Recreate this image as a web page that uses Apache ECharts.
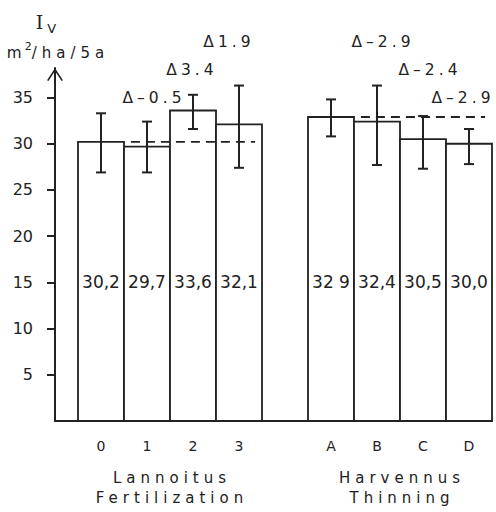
<!DOCTYPE html>
<html>
<head>
<meta charset="utf-8">
<script src="https://cdn.jsdelivr.net/npm/echarts@6/dist/echarts.min.js"></script>
<style>
html, body { margin: 0; padding: 0; background: #fff; }
#chart { width: 496px; height: 512px; }
/* 字间距：轴名称和 Δ 标注 */
#chart text[style*="15px"] { letter-spacing: 5px; }
#chart text[style*="15.5px"] { letter-spacing: 4px; }
</style>
</head>
<body>
<div id="chart"></div>
<script>
// 数据
var categories = ['0', '1', '2', '3', 'A', 'B', 'C', 'D'];
var groupNames = ['Lannoitus\nFertilization', 'Harvennus\nThinning'];
var means = [30.2, 29.7, 33.6, 32.1, 32.9, 32.4, 30.5, 30.0];
var meanLabels = ['30,2', '29,7', '33,6', '32,1', '32 9', '32,4', '30,5', '30,0'];
var errLow = [26.9, 26.9, 31.6, 27.4, 30.8, 27.7, 27.3, 27.8];
var errHigh = [33.3, 32.4, 35.3, 36.3, 34.8, 36.3, 33.0, 31.6];
var deltas = [null, -0.5, 3.4, 1.9, null, -2.9, -2.4, -2.9];
var yTicks = [5, 10, 15, 20, 25, 30, 35];

// 布局
var GROUP_SIZE = 4;
var DELTA_ROW = [null, 0, 1, 2, null, 2, 1, 0];
var DELTA_DX = [0, 5, -3, -12, 0, 4, 5, -8];
var LABEL_LEVEL = 15;
var INK = '#222';
var FONT = 'DejaVu Sans';
var ARROW = 'path://M0,13 L8.5,0 L17,13 L15.5,13.9 L8.5,3.2 L1.5,13.9 Z';

function xOf(i) { return i + Math.floor(i / GROUP_SIZE); }

var xPositions = categories.map(function (c, i) { return xOf(i); });

var barData = means.map(function (v, i) {
    return [xOf(i), v, errLow[i], errHigh[i], i];
});

var refData = groupNames.map(function (n, g) {
    var first = xOf(g * GROUP_SIZE);
    return [first, first + GROUP_SIZE - 1, means[g * GROUP_SIZE]];
});

var groupData = groupNames.map(function (n, g) {
    var first = xOf(g * GROUP_SIZE);
    return [first + (GROUP_SIZE - 1) / 2, g];
});

function renderBar(params, api) {
    var x = api.value(0);
    var p0 = api.coord([x - 0.5, 0]);
    var p1 = api.coord([x + 0.5, api.value(1)]);
    return {
        type: 'rect',
        shape: {x: p0[0], y: p1[1], width: p1[0] - p0[0], height: p0[1] - p1[1]},
        style: {fill: '#fff', stroke: INK, lineWidth: 1.8}
    };
}

function renderErr(params, api) {
    var x = api.value(0);
    var lo = api.coord([x, api.value(2)]);
    var hi = api.coord([x, api.value(3)]);
    var cap = 5;
    var st = {stroke: INK, lineWidth: 2};
    return {
        type: 'group',
        children: [
            {type: 'line', shape: {x1: lo[0], y1: lo[1], x2: hi[0], y2: hi[1]}, style: st},
            {type: 'line', shape: {x1: lo[0] - cap, y1: lo[1], x2: lo[0] + cap, y2: lo[1]}, style: st},
            {type: 'line', shape: {x1: hi[0] - cap, y1: hi[1], x2: hi[0] + cap, y2: hi[1]}, style: st}
        ]
    };
}

function renderLabels(params, api) {
    var x = api.value(0);
    var i = api.value(4);
    var children = [];
    var p = api.coord([x, LABEL_LEVEL]);
    children.push({
        type: 'text',
        style: {
            text: meanLabels[i], x: p[0], y: p[1],
            textAlign: 'center', textVerticalAlign: 'middle',
            fontFamily: FONT, fontSize: 17, fill: INK
        }
    });
    if (deltas[i] !== null) {
        var q = api.coord([x, 35 + 3 * DELTA_ROW[i]]);
        var d = deltas[i];
        var txt = 'Δ' + (d < 0 ? '–' : '') + Math.abs(d).toFixed(1);
        children.push({
            type: 'text',
            style: {
                text: txt, x: q[0] + DELTA_DX[i] + 2, y: q[1],
                textAlign: 'center', textVerticalAlign: 'middle',
                fontFamily: FONT, fontSize: 15.5, fill: INK
            }
        });
    }
    return {type: 'group', children: children};
}

function renderRef(params, api) {
    var a = api.coord([api.value(0) + 0.65, api.value(2)]);
    var b = api.coord([api.value(1) + 0.35, api.value(2)]);
    return {
        type: 'line',
        shape: {x1: a[0], y1: a[1], x2: b[0], y2: b[1]},
        style: {stroke: INK, lineWidth: 1.8, lineDash: [9, 6]}
    };
}

function renderGroup(params, api) {
    var p = api.coord([api.value(0), 0]);
    return {
        type: 'text',
        style: {
            text: groupNames[api.value(1)], x: p[0] + 2, y: p[1] + 47,
            textAlign: 'center', textVerticalAlign: 'top', lineHeight: 20,
            fontFamily: FONT, fontSize: 15, fill: INK
        }
    };
}

var chart = echarts.init(document.getElementById('chart'), null, {renderer: 'svg'});

chart.setOption({
    animation: false,
    backgroundColor: '#fff',
    grid: {left: 55, right: 4, top: 68, bottom: 91, containLabel: false},
    xAxis: {
        type: 'value', min: -1, max: 8.5,
        axisLine: {show: true, onZero: false, lineStyle: {color: INK, width: 2}},
        axisTick: {show: false},
        splitLine: {show: false},
        axisLabel: {
            customValues: xPositions,
            formatter: function (v) { return categories[xPositions.indexOf(v)] || ''; },
            margin: 18, fontFamily: FONT, fontSize: 14, color: INK
        }
    },
    yAxis: {
        type: 'value', min: 0, max: 38.2,
        axisLine: {
            show: true, onZero: false,
            lineStyle: {color: INK, width: 2},
            symbol: ['none', ARROW], symbolSize: [17, 13], symbolOffset: [0, -6.5]
        },
        axisTick: {show: true, length: 8, customValues: yTicks, lineStyle: {color: INK, width: 2}},
        axisLabel: {customValues: yTicks, margin: 22, fontFamily: FONT, fontSize: 16, color: INK},
        splitLine: {show: false},
        name: '{i|I}{v|V}\n{m|m}{s|2}{u|/ha/5a}',
        nameLocation: 'end',
        nameGap: -4,
        nameTextStyle: {
            align: 'center',
            padding: [0, 24, 0, 0],
            rich: {
                i: {fontFamily: 'DejaVu Serif', fontSize: 19, lineHeight: 22, padding: [0, 0, 0, 6], verticalAlign: 'top', color: INK},
                v: {fontFamily: FONT, fontSize: 13, lineHeight: 14, padding: [10, 0, 0, 4], verticalAlign: 'top', color: INK},
                m: {fontFamily: FONT, fontSize: 15.2, lineHeight: 38, align: 'left', color: INK},
                s: {fontFamily: FONT, fontSize: 11, lineHeight: 12, padding: [7, 0, 0, 3], verticalAlign: 'top', align: 'left', color: INK},
                u: {fontFamily: FONT, fontSize: 15, lineHeight: 38, align: 'left', color: INK}
            }
        }
    },
    series: [
        {type: 'custom', name: 'bars', data: barData, renderItem: renderBar, clip: false, z: 2},
        {type: 'custom', name: 'ref', data: refData, renderItem: renderRef, clip: false, z: 3},
        {type: 'custom', name: 'err', data: barData, renderItem: renderErr, clip: false, z: 4},
        {type: 'custom', name: 'labels', data: barData, renderItem: renderLabels, clip: false, z: 5},
        {type: 'custom', name: 'groups', data: groupData, renderItem: renderGroup, clip: false, z: 5}
    ]
});
</script>
</body>
</html>
